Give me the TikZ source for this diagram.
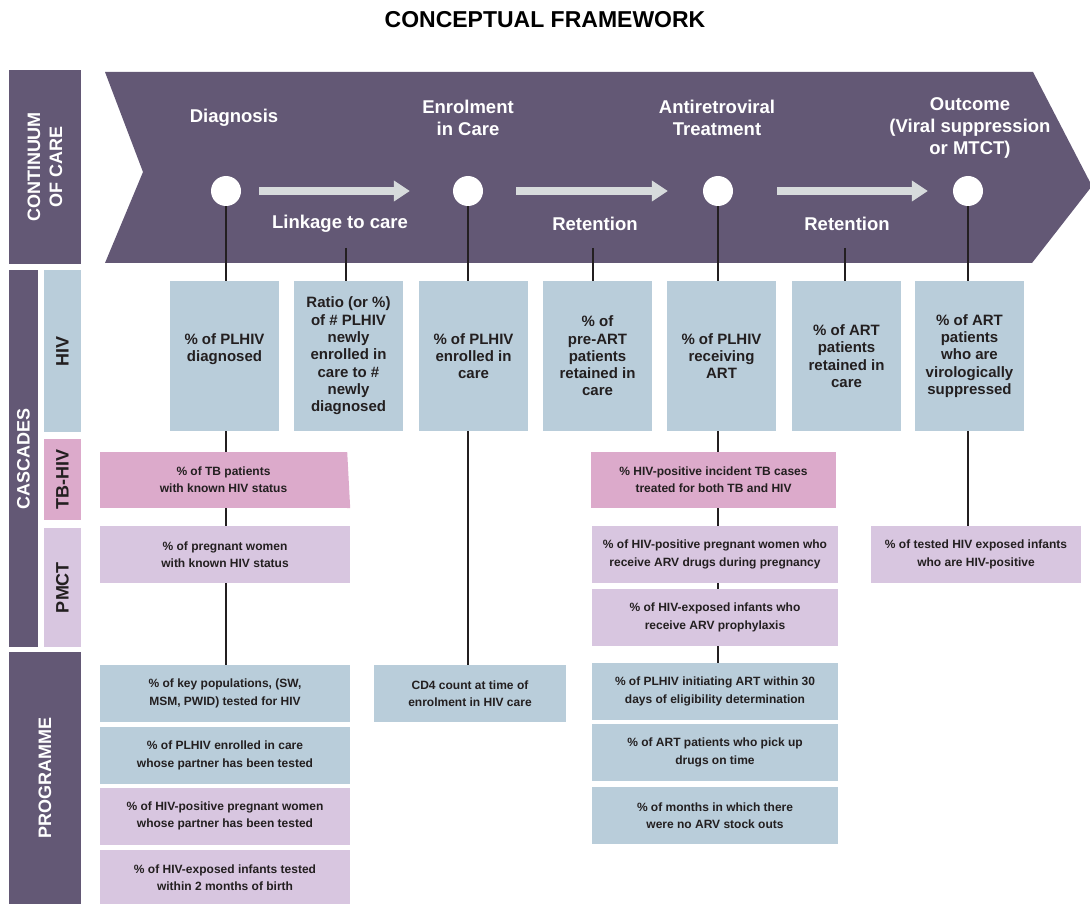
\documentclass[tikz,border=0pt]{standalone}
\usepackage{fontspec}
\setmainfont{Liberation Sans}
\usetikzlibrary{arrows.meta,backgrounds}
\definecolor{plum}{RGB}{99,88,117}
\definecolor{hivblue}{RGB}{185,205,218}
\definecolor{tbpink}{RGB}{220,170,203}
\definecolor{pmctlilac}{RGB}{216,198,224}
\definecolor{flowgrey}{RGB}{215,219,220}
\definecolor{inkdark}{RGB}{35,31,32}
\newcommand{\titlefont}{\fontsize{23}{27}\selectfont\bfseries}
\newcommand{\stagefont}{\fontsize{18.5}{22}\selectfont\bfseries}
\newcommand{\bandfont}{\fontsize{18}{22}\selectfont\bfseries}
\newcommand{\cascfont}{\fontsize{15}{17.3}\selectfont\bfseries}
\newcommand{\indfont}{\fontsize{12}{17.3}\selectfont\bfseries}
\tikzset{
  bandbox/.style = {fill=plum, text=white, font=\bandfont, rotate=90,
    inner sep=0pt, align=center},
  rowbox/.style = {text=inkdark, font=\bandfont, rotate=90, inner sep=0pt},
  stage/.style = {text=white, font=\stagefont, align=center},
  stagedot/.style = {circle, fill=white, minimum size=30pt, inner sep=0pt},
  flow/.style = {draw=flowgrey, line width=8pt,
    -{Triangle[length=16pt,width=20pt]}},
  link/.style = {draw=inkdark, line width=2.8pt},
  cascbox/.style = {fill=hivblue, minimum width=109pt, minimum height=150pt,
    inner sep=0pt, align=center, font=\cascfont, text=inkdark},
  indbox/.style = {minimum height=57pt, inner sep=0pt, align=center,
    font=\indfont, text=inkdark}
}

\begin{document}
\begin{tikzpicture}[x=1pt,y=-1pt]
  \useasboundingbox (0,0) rectangle (1090,904);
  % title
  \node[font=\titlefont, text=black] (title) at (545,20) {CONCEPTUAL FRAMEWORK};
  % side bands
  \node[bandbox, minimum width=194pt, minimum height=72pt] (coc) at (45,167) {CONTINUUM\\OF CARE};
  \node[bandbox, minimum width=377pt, minimum height=29pt] (casc) at (23.5,458.5) {CASCADES};
  \node[rowbox, fill=hivblue, minimum width=162pt, minimum height=37pt] (rhiv) at (62.5,351) {HIV};
  \node[rowbox, fill=tbpink, minimum width=81pt, minimum height=37pt] (rtb) at (62.5,479.5) {TB-HIV};
  \node[rowbox, fill=pmctlilac, minimum width=119pt, minimum height=37pt] (rpmct) at (62.5,587.5) {PMCT};
  \node[bandbox, minimum width=252pt, minimum height=72pt] (prog) at (45,778) {PROGRAMME};
  % continuum chevron
  \begin{scope}[on background layer]
    \fill[plum] (105,72) -- (1033,72) -- (1092,186) -- (1032,263) -- (105,263) -- (143,172) -- cycle;
  \end{scope}
  % stages
  \node[stage] (sdiag) at (234,118) {Diagnosis};
  \node[stage] (senrol) at (468,117.5) {Enrolment\\in Care};
  \node[stage] (sart) at (717,117.5) {Antiretroviral\\Treatment};
  \node[stage] (sout) at (970,128) {Outcome\\(Viral suppression\\or MTCT)};
  \node[stagedot] (c1) at (226,191) {};
  \node[stagedot] (c2) at (468,191) {};
  \node[stagedot] (c3) at (718,191) {};
  \node[stagedot] (c4) at (968,191) {};
  \draw[flow, shorten <=18pt, shorten >=43pt] (c1) -- (c2);
  \draw[flow, shorten <=33pt, shorten >=35pt] (c2) -- (c3);
  \draw[flow, shorten <=44pt, shorten >=25pt] (c3) -- (c4);
  \node[stage] (slink) at (340,224) {Linkage to care};
  \node[stage] (sret1) at (595,224) {Retention};
  \node[stage] (sret2) at (847,224) {Retention};
  \coordinate (l1) at (346,248);
  \coordinate (l2) at (593,248);
  \coordinate (l3) at (845,248);
  % HIV cascade
  \node[cascbox] (hiv1) at (224.5,356) {\% of PLHIV\\diagnosed\\ \mbox{}};
  \node[cascbox] (hiv2) at (348.5,356) {Ratio (or \%)\\of \# PLHIV\\newly\\enrolled in\\care to \#\\newly\\diagnosed};
  \node[cascbox] (hiv3) at (473.5,356) {\% of PLHIV\\enrolled in\\care};
  \node[cascbox] (hiv4) at (597.5,356) {\% of\\pre-ART\\patients\\retained in\\care};
  \node[cascbox] (hiv5) at (721.5,356) {\% of PLHIV\\receiving\\ART};
  \node[cascbox] (hiv6) at (846.5,356) {\% of ART\\patients\\retained in\\care};
  \node[cascbox] (hiv7) at (969.5,356) {\% of ART\\patients\\who are\\virologically\\suppressed};
  % TB-HIV cascade
  \node[indbox, fill=tbpink, minimum width=247pt, minimum height=56pt] (tb1) at (223.5,480) {\% of TB patients\\with known HIV status};
  \fill[tbpink] (tb1.north east) -- (tb1.south east) -- ++(3,0) -- cycle;
  \node[indbox, fill=tbpink, minimum width=245pt, minimum height=56pt] (tb2) at (713.5,480) {\% HIV-positive incident TB cases\\treated for both TB and HIV};
  % PMCT cascade
  \node[indbox, fill=pmctlilac, minimum width=250pt] (pm1) at (225,554.5) {\% of pregnant women\\with known HIV status};
  \node[indbox, fill=pmctlilac, minimum width=246pt] (pm2) at (715,554.5) {\% of HIV-positive pregnant women who\\receive ARV drugs during pregnancy};
  \node[indbox, fill=pmctlilac, minimum width=246pt] (pm3) at (715,617.5) {\% of HIV-exposed infants who\\receive ARV prophylaxis};
  \node[indbox, fill=pmctlilac, minimum width=210pt] (pm4) at (976,554.5) {\% of tested HIV exposed infants\\who are HIV-positive};
  % programme
  \node[indbox, fill=hivblue, minimum width=250pt] (prog1) at (225,693.5) {\% of key populations, (SW,\\MSM, PWID) tested for HIV};
  \node[indbox, fill=hivblue, minimum width=250pt] (prog2) at (225,755.5) {\% of PLHIV enrolled in care\\whose partner has been tested};
  \node[indbox, fill=pmctlilac, minimum width=250pt] (prog3) at (225,816) {\% of HIV-positive pregnant women\\whose partner has been tested};
  \node[indbox, fill=pmctlilac, minimum width=250pt] (prog4) at (225,878) {\% of HIV-exposed infants tested\\within 2 months of birth};
  \node[indbox, fill=hivblue, minimum width=192pt] (cd4) at (470,693.5) {CD4 count at time of\\enrolment in HIV care};
  \node[indbox, fill=hivblue, minimum width=246pt] (art1) at (715,691.5) {\% of PLHIV initiating ART within 30\\days of eligibility determination};
  \node[indbox, fill=hivblue, minimum width=246pt] (art2) at (715,752.5) {\% of ART patients who pick up\\drugs on time};
  \node[indbox, fill=hivblue, minimum width=246pt] (art3) at (715,815.5) {\% of months in which there\\were no ARV stock outs};
  % links
  \begin{scope}[on background layer]
    \draw[link] (c1) -- (c1 |- prog1.north);
    \draw[link] (l1) -- (l1 |- hiv2.north);
    \draw[link] (c2) -- (c2 |- cd4.north);
    \draw[link] (l2) -- (l2 |- hiv4.north);
    \draw[link] (c3) -- (c3 |- art1.north);
    \draw[link] (l3) -- (l3 |- hiv6.north);
    \draw[link] (c4) -- (c4 |- pm4.north);
  \end{scope}
\end{tikzpicture}
\end{document}
